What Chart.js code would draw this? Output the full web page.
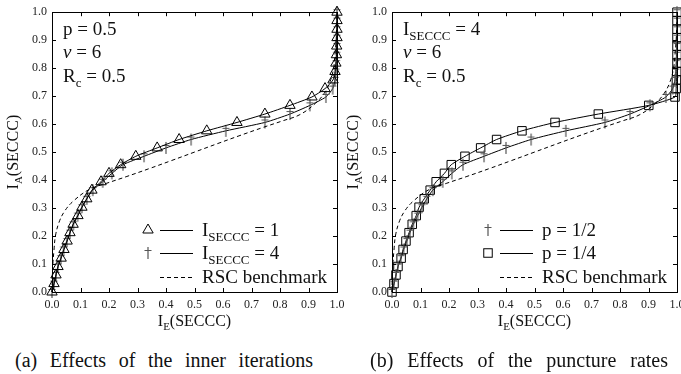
<!DOCTYPE html>
<html>
<head>
<meta charset="utf-8">
<script src="https://cdn.jsdelivr.net/npm/chart.js@4.4.1/dist/chart.umd.min.js"></script>
<style>
html, body { margin: 0; padding: 0; background: #fff; overflow: hidden; width: 681px; height: 374px; }
canvas { position: absolute; top: 0; }
#c1 { left: 0; }
#c2 { left: 340px; }
.cap { position: absolute; top: 350px; width: 298px; font: 20px "Liberation Serif", "DejaVu Serif", serif; line-height: 20px;
       text-align: justify; text-align-last: justify; color: #111; }
</style>
</head>
<body>
<canvas id="c1" width="360" height="340"></canvas>
<canvas id="c2" width="360" height="340"></canvas>
<div class="cap" style="left:15px">(a) Effects of the inner iterations</div>
<div class="cap" style="left:370px">(b) Effects of the puncture rates</div>
<script>
// a priori input I_A, sampled points shared by all SECCC curves
const iA = [0, 0.030, 0.061, 0.091, 0.121, 0.152, 0.182, 0.212, 0.242, 0.273, 0.303, 0.333,
            0.364, 0.394, 0.424, 0.455, 0.485, 0.515, 0.545, 0.576, 0.606, 0.636, 0.667, 0.697,
            0.727, 0.758, 0.788, 0.818, 0.848, 0.879, 0.909, 0.939, 0.970, 1.000];
// I_SECCC = 1 (triangles)
const xInner1 = [0, 0.007, 0.014, 0.021, 0.032, 0.042, 0.053, 0.063, 0.074, 0.091, 0.105, 0.122,
                 0.140, 0.172, 0.200, 0.241, 0.294, 0.369, 0.446, 0.543, 0.649, 0.747, 0.835, 0.912,
                 0.958, 0.986, 0.993, 0.996, 0.998, 0.999, 1, 1, 1, 1];
// I_SECCC = 4, p = 1/2 (daggers)
const xInner4 = [0, 0.007, 0.014, 0.021, 0.031, 0.041, 0.052, 0.063, 0.075, 0.090, 0.105, 0.122,
                 0.143, 0.178, 0.210, 0.249, 0.323, 0.400, 0.488, 0.610, 0.747, 0.835, 0.905, 0.961,
                 0.985, 0.993, 0.996, 0.998, 0.999, 1, 1, 1, 1, 1];
// p = 1/4 (squares)
const xPunct4 = [0, 0.007, 0.014, 0.021, 0.032, 0.039, 0.049, 0.060, 0.071, 0.085, 0.095, 0.113,
                 0.134, 0.155, 0.184, 0.208, 0.256, 0.311, 0.367, 0.456, 0.572, 0.724, 0.901, 0.993,
                 0.997, 0.998, 0.999, 1, 1, 1, 1, 1, 1, 1];
// RSC benchmark (dashed)
const rscX = [0, 0.001, 0.003, 0.007, 0.012, 0.025, 0.045, 0.075, 0.130, 0.190, 0.260, 0.344, 0.420,
              0.500, 0.580, 0.656, 0.740, 0.810, 0.870, 0.925, 0.955, 0.975, 0.988, 0.993, 0.997, 0.999, 1];
const rscY = [0, 0.050, 0.100, 0.150, 0.200, 0.250, 0.290, 0.325, 0.366, 0.388, 0.412, 0.442, 0.470,
              0.500, 0.530, 0.558, 0.588, 0.612, 0.634, 0.675, 0.710, 0.750, 0.800, 0.850, 0.900, 0.950, 1];
const tickLabels = ['0.0', '0.1', '0.2', '0.3', '0.4', '0.5', '0.6', '0.7', '0.8', '0.9', '1.0'];

const FONT = '"Liberation Serif", "DejaVu Serif", serif';
Chart.defaults.font.family = FONT;

const pts = (xs, ys) => xs.map((x, i) => ({ x: x, y: ys[i] }));

function makeDagger() {
    const c = document.createElement('canvas');
    c.width = 10; c.height = 14;
    const g = c.getContext('2d');
    g.strokeStyle = '#555';
    g.lineWidth = 1.2;
    g.beginPath();
    g.moveTo(5, 1); g.lineTo(5, 13);
    g.moveTo(1.5, 4.5); g.lineTo(8.5, 4.5);
    g.stroke();
    return c;
}
const dagger = makeDagger();

function rich(ctx, parts, x, y, size, align) {
    const sub = Math.round(size * 0.68);
    const fontOf = p => (p.it ? 'italic ' : '') + (p.sub ? sub : size) + 'px ' + FONT;
    let w = 0;
    parts.forEach(p => { ctx.font = fontOf(p); w += ctx.measureText(p.t).width; });
    let cx = align === 'center' ? x - w / 2 : x;
    parts.forEach(p => {
        ctx.font = fontOf(p);
        ctx.fillText(p.t, cx, y + (p.sub ? size * 0.27 : 0));
        cx += ctx.measureText(p.t).width;
    });
}

function drawMarker(ctx, kind, x, y) {
    ctx.save();
    ctx.strokeStyle = '#000';
    ctx.lineWidth = 1;
    if (kind === 'triangle') {
        const r = 6;
        ctx.beginPath();
        ctx.moveTo(x, y - r);
        ctx.lineTo(x + r * Math.sin(2 * Math.PI / 3), y - r * Math.cos(2 * Math.PI / 3));
        ctx.lineTo(x + r * Math.sin(4 * Math.PI / 3), y - r * Math.cos(4 * Math.PI / 3));
        ctx.closePath();
        ctx.stroke();
    } else if (kind === 'square') {
        const s = 6 * Math.SQRT1_2;
        ctx.strokeRect(x - s, y - s, 2 * s, 2 * s);
    } else if (kind === 'dagger') {
        ctx.drawImage(dagger, x - 5, y - 7);
    }
    ctx.restore();
}

const legendRows = [230, 253, 277];

const deco = {
    id: 'deco',
    afterDraw(chart, args, o) {
        const ctx = chart.ctx;
        const a = chart.chartArea;
        const xs = chart.scales.x, ys = chart.scales.y;
        ctx.save();
        ctx.strokeStyle = '#000';
        ctx.lineWidth = 1;
        ctx.strokeRect(Math.round(a.left) + 0.5, Math.round(a.top) + 0.5,
                       Math.round(a.right - a.left), Math.round(a.bottom - a.top));
        ctx.beginPath();
        for (let i = 1; i < 10; i++) {
            const v = i / 10;
            const px = Math.round(xs.getPixelForValue(v)) + 0.5;
            ctx.moveTo(px, a.bottom); ctx.lineTo(px, a.bottom - 4);
            ctx.moveTo(px, a.top); ctx.lineTo(px, a.top + 4);
            const py = Math.round(ys.getPixelForValue(v)) + 0.5;
            ctx.moveTo(a.left, py); ctx.lineTo(a.left + 4, py);
            ctx.moveTo(a.right, py); ctx.lineTo(a.right - 4, py);
        }
        ctx.stroke();

        ctx.fillStyle = '#111';
        ctx.textAlign = 'left';
        ctx.textBaseline = 'alphabetic';
        // axis titles
        rich(ctx, [{ t: 'I' }, { t: 'E', sub: true }, { t: '(SECCC)' }], (a.left + a.right) / 2, 326, 16, 'center');
        ctx.save();
        ctx.translate(18, (a.top + a.bottom) / 2);
        ctx.rotate(-Math.PI / 2);
        rich(ctx, [{ t: 'I' }, { t: 'A', sub: true }, { t: '(SECCC)' }], 0, 0, 16, 'center');
        ctx.restore();

        // parameter notes
        o.notes.forEach((parts, i) => rich(ctx, parts, 63, [35, 58, 82][i], 19));

        // legend
        o.legend.forEach((it, i) => {
            const y = legendRows[i];
            if (it.marker) drawMarker(ctx, it.marker, 148, y);
            ctx.strokeStyle = '#000';
            ctx.beginPath();
            ctx.setLineDash(it.dash ? [4, 3] : []);
            ctx.moveTo(160, y + 0.5); ctx.lineTo(193, y + 0.5);
            ctx.stroke();
            ctx.setLineDash([]);
            rich(ctx, it.parts, 202, y + 6, 19);
        });
        ctx.restore();
    }
};

function axis(isX) {
    return {
        type: 'linear', min: 0, max: 1,
        ticks: { stepSize: 0.1, padding: isX ? 6 : 5, color: '#222', font: { size: 12 },
                 callback: (v, i) => tickLabels[i] },
        grid: { display: false, drawTicks: false },
        border: { display: false },
        afterFit: s => { if (isX) s.height = 48; else s.width = 52; }
    };
}

function rscSet() {
    return { data: pts(rscX, rscY), borderColor: '#000', borderWidth: 1, borderDash: [4, 3],
             pointRadius: 0, tension: 0.4, showLine: true, clip: false };
}

function curveSet(xs, style) {
    return { data: pts(xs, iA), borderColor: '#000', borderWidth: 1, showLine: true, tension: 0.2,
             pointStyle: style, pointRadius: 6, pointBorderColor: '#000', pointBorderWidth: 1,
             pointBackgroundColor: 'rgba(0,0,0,0)', clip: false };
}

function makeChart(id, datasets, notes, legend) {
    return new Chart(document.getElementById(id), {
        type: 'scatter',
        data: { datasets: datasets },
        options: {
            responsive: false,
            animation: false,
            events: [],
            layout: { padding: { left: 0, top: 8, right: 23, bottom: 0 } },
            scales: { x: axis(true), y: axis(false) },
            plugins: { legend: { display: false }, tooltip: { enabled: false },
                       deco: { notes: notes, legend: legend } }
        },
        plugins: [deco]
    });
}

const nuNote = [{ t: 'ν', it: true }, { t: ' = 6' }];
const rcNote = [{ t: 'R' }, { t: 'c', sub: true }, { t: ' = 0.5' }];

const charts = [
    makeChart('c1',
        [rscSet(), curveSet(xInner1, 'triangle'), curveSet(xInner4, dagger)],
        [[{ t: 'p = 0.5' }], nuNote, rcNote],
        [{ marker: 'triangle', parts: [{ t: 'I' }, { t: 'SECCC', sub: true }, { t: ' = 1' }] },
         { marker: 'dagger', parts: [{ t: 'I' }, { t: 'SECCC', sub: true }, { t: ' = 4' }] },
         { dash: true, parts: [{ t: 'RSC benchmark' }] }]),
    makeChart('c2',
        [rscSet(), curveSet(xInner4, dagger), curveSet(xPunct4, 'rect')],
        [[{ t: 'I' }, { t: 'SECCC', sub: true }, { t: ' = 4' }], nuNote, rcNote],
        [{ marker: 'dagger', parts: [{ t: 'p = 1/2' }] },
         { marker: 'square', parts: [{ t: 'p = 1/4' }] },
         { dash: true, parts: [{ t: 'RSC benchmark' }] }])
];

// redraw once the serif face is ready, so canvas text does not fall back
if (document.fonts) {
    Promise.all([document.fonts.load('19px "Liberation Serif"'), document.fonts.load('italic 19px "Liberation Serif"')])
        .then(() => charts.forEach(c => c.update('none')));
}
</script>
</body>
</html>
